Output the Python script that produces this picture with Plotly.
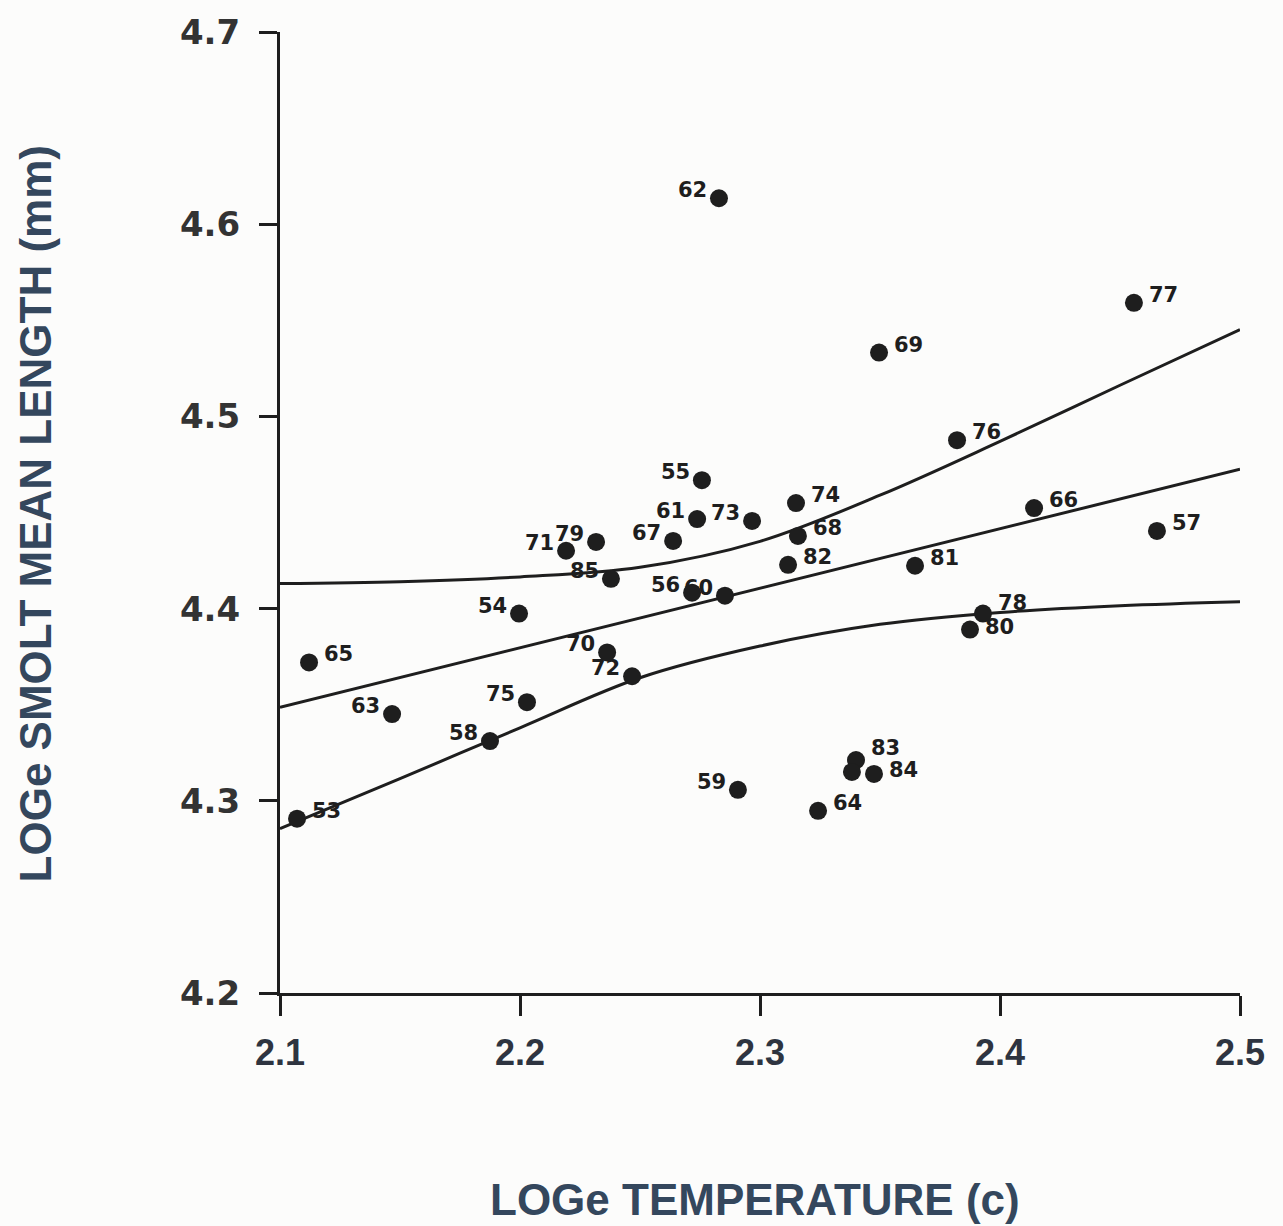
import plotly.graph_objects as go

# ---- data ----
years = ["53", "54", "55", "56", "57", "58", "59", "60", "61", "62", "63", "64", "65",
         "66", "67", "68", "69", "70", "71", "72", "73", "74", "75", "76", "77", "78",
         "79", "80", "81", "82", "83", "", "84", "85"]
log_temp = [2.1071, 2.1996, 2.2758, 2.2717, 2.4654, 2.1875, 2.2908, 2.2854, 2.2738, 2.2829,
            2.1467, 2.3242, 2.1121, 2.4142, 2.2638, 2.3158, 2.3496, 2.2363, 2.2192, 2.2467,
            2.2967, 2.3150, 2.2029, 2.3821, 2.4558, 2.3929, 2.2317, 2.3875, 2.3646, 2.3117,
            2.3400, 2.3383, 2.3475, 2.2379]
log_length = [4.2907, 4.3974, 4.4668, 4.4083, 4.4404, 4.3311, 4.3057, 4.4067, 4.4466, 4.6135,
              4.3451, 4.2948, 4.3720, 4.4523, 4.4352, 4.4378, 4.5332, 4.3772, 4.4301, 4.3648,
              4.4456, 4.4549, 4.3513, 4.4876, 4.5591, 4.3974, 4.4347, 4.3891, 4.4223, 4.4228,
              4.3212, 4.3150, 4.3140, 4.4155]

fit_x = [2.1, 2.5]
fit_y = [4.3487, 4.4725]

band_x = [2.1, 2.15, 2.2, 2.25, 2.3, 2.35, 2.4, 2.45, 2.5]
upper_y = [4.4130, 4.4140, 4.4165, 4.4215, 4.4350, 4.4590, 4.4870, 4.5162, 4.5451]
lower_y = [4.2855, 4.3115, 4.3380, 4.3640, 4.3805, 4.3918, 4.3980, 4.4015, 4.4036]

x_ticks = [2.1, 2.2, 2.3, 2.4, 2.5]
y_ticks = [4.2, 4.3, 4.4, 4.5, 4.6, 4.7]

# label placement (left of the dot for these, right otherwise)
left_labels = {"54", "55", "56", "58", "59", "61", "62", "63", "67", "70", "71",
               "72", "73", "75", "79", "85", "60"}
raised = {"78": 11, "80": 3, "83": 12, "84": 4}

INK = "#1e1e1e"
TITLE = "#34475d"

fig = go.Figure()

line_style = dict(color=INK, width=3)
fig.add_trace(go.Scatter(x=band_x, y=upper_y, mode="lines",
                         line=dict(shape="spline", smoothing=1.0, **line_style),
                         hoverinfo="skip", showlegend=False))
fig.add_trace(go.Scatter(x=band_x, y=lower_y, mode="lines",
                         line=dict(shape="spline", smoothing=1.0, **line_style),
                         hoverinfo="skip", showlegend=False))
fig.add_trace(go.Scatter(x=fit_x, y=fit_y, mode="lines", line=line_style,
                         hoverinfo="skip", showlegend=False))

fig.add_trace(go.Scatter(x=log_temp, y=log_length, mode="markers",
                         marker=dict(size=18, color=INK, line=dict(width=0)),
                         text=years, showlegend=False))

for lab, xv, yv in zip(years, log_temp, log_length):
    if not lab:
        continue
    left = lab in left_labels
    fig.add_annotation(x=xv, y=yv, xref="x", yref="y", text=lab, showarrow=False,
                       xanchor="right" if left else "left", yanchor="middle",
                       xshift=-10 if left else 13, yshift=raised.get(lab, 8),
                       font=dict(family="DejaVu Sans", size=21, color=INK, weight="bold"))

fig.add_annotation(text="LOGe TEMPERATURE (c)", xref="paper", yref="paper",
                   x=0.4948, y=-0.2145, xanchor="center", yanchor="middle", showarrow=False,
                   font=dict(family="Liberation Sans", size=44, color=TITLE, weight="bold"))
fig.add_annotation(text="LOGe SMOLT MEAN LENGTH (mm)", xref="paper", yref="paper",
                   x=-0.2552, y=0.498, xanchor="center", yanchor="middle", textangle=-90,
                   showarrow=False,
                   font=dict(family="Liberation Sans", size=44, color=TITLE, weight="bold"))

fig.update_xaxes(range=[2.1, 2.5], tickvals=x_ticks, ticktext=[f"{v:.1f}" for v in x_ticks],
                 showgrid=False, zeroline=False, showline=True, linecolor=INK, linewidth=3,
                 ticks="outside", ticklen=20, tickwidth=3, tickcolor=INK, ticklabelstandoff=6,
                 tickfont=dict(family="Liberation Sans", size=36, color="#2e3440", weight="bold"))
fig.update_yaxes(range=[4.2, 4.7], tickvals=y_ticks, ticktext=[f"{v:.1f}" for v in y_ticks],
                 showgrid=False, zeroline=False, showline=True, linecolor=INK, linewidth=3,
                 ticks="outside", ticklen=18, tickwidth=3, tickcolor=INK, ticklabelstandoff=12,
                 tickfont=dict(family="DejaVu Sans", size=34, color="#333333", weight="bold"))

fig.update_layout(width=1283, height=1226, autosize=False,
                  margin=dict(l=280, r=43, t=28, b=233),
                  paper_bgcolor="#fcfcfb", plot_bgcolor="#fcfcfb",
                  showlegend=False)

fig.write_html("out.html")
